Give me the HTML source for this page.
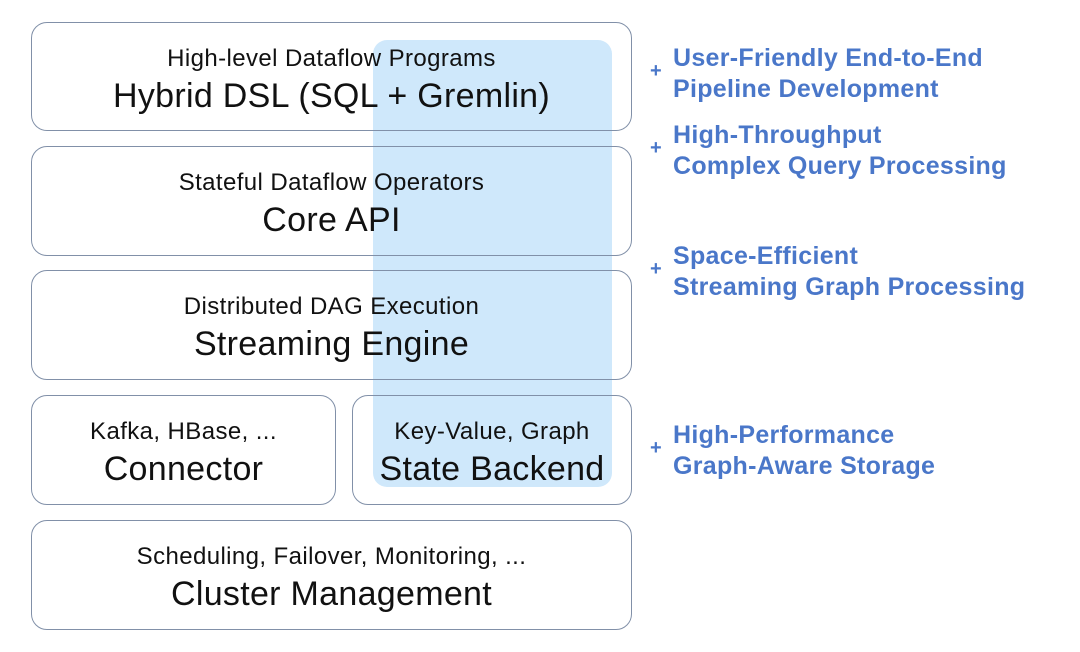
<!DOCTYPE html>
<html><head><style>
body{margin:0;width:1080px;height:652px;background:#fff;position:relative;overflow:hidden;font-family:"Liberation Sans",sans-serif;}
.b{position:absolute;border:1.5px solid #8190a8;border-radius:16px;box-sizing:border-box;text-align:center;color:#111;z-index:2;background:transparent;}
.s{font-size:24px;letter-spacing:0.4px;position:absolute;left:0;right:0;top:22px;white-space:nowrap;}
.l{font-size:34px;letter-spacing:0.3px;position:absolute;left:0;right:0;top:54px;white-space:nowrap;}
.ov{position:absolute;left:373px;top:40px;width:239px;height:447px;background:#cfe8fb;border-radius:14px;z-index:1;}
.r{position:absolute;left:650px;color:#4a77c9;font-weight:bold;font-size:25px;line-height:31px;letter-spacing:0.3px;}
.r span{position:absolute;left:0;top:13px;font-size:20px;}
.r div{margin-left:23px;white-space:nowrap;}
</style></head><body>
<div class="ov"></div>
<div class="b" style="left:31px;top:22px;width:601px;height:109px"><div class="s">High-level Dataflow Programs</div><div class="l">Hybrid DSL (SQL + Gremlin)</div></div>
<div class="b" style="left:31px;top:146px;width:601px;height:110px"><div class="s">Stateful Dataflow Operators</div><div class="l">Core API</div></div>
<div class="b" style="left:31px;top:270px;width:601px;height:110px"><div class="s">Distributed DAG Execution</div><div class="l">Streaming Engine</div></div>
<div class="b" style="left:31px;top:395px;width:305px;height:110px"><div class="s">Kafka, HBase, ...</div><div class="l">Connector</div></div>
<div class="b" style="left:352px;top:395px;width:280px;height:110px"><div class="s">Key-Value, Graph</div><div class="l">State Backend</div></div>
<div class="b" style="left:31px;top:520px;width:601px;height:110px"><div class="s">Scheduling, Failover, Monitoring, ...</div><div class="l">Cluster Management</div></div>
<div class="r" style="top:43px"><span>+</span><div>User-Friendly End-to-End</div><div>Pipeline Development</div></div>
<div class="r" style="top:120px"><span>+</span><div>High-Throughput</div><div>Complex Query Processing</div></div>
<div class="r" style="top:241px"><span>+</span><div>Space-Efficient</div><div>Streaming Graph Processing</div></div>
<div class="r" style="top:420px"><span>+</span><div>High-Performance</div><div>Graph-Aware Storage</div></div>
</body></html>
